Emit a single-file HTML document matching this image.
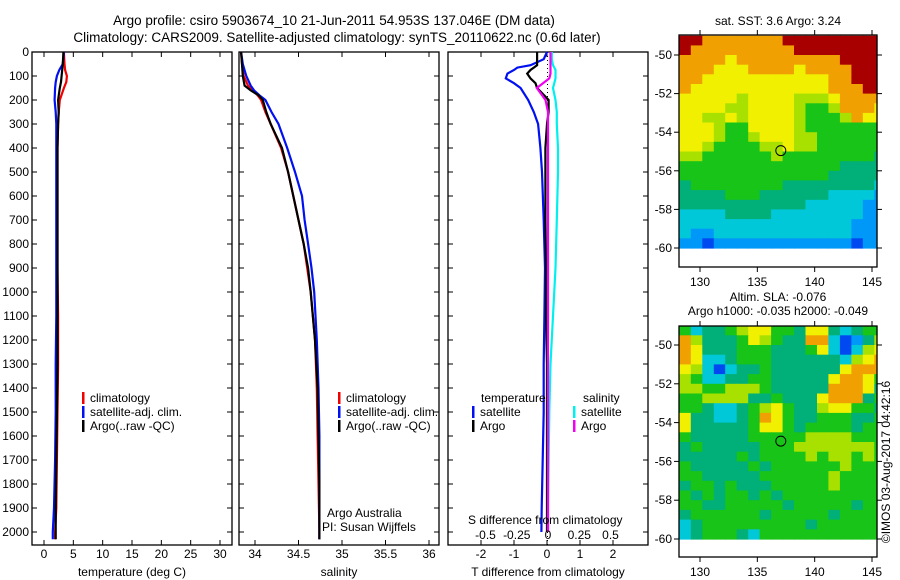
<!DOCTYPE html>
<html><head><meta charset="utf-8"><style>
body{margin:0;background:#fff}
svg{display:block;font-family:"Liberation Sans",sans-serif}
</style></head><body>
<svg id="s" width="900" height="580" viewBox="0 0 900 580" xmlns="http://www.w3.org/2000/svg">
<text x="334" y="25" font-size="13.5" text-anchor="middle">Argo profile: csiro 5903674_10 21-Jun-2011 54.953S 137.046E (DM data)</text>
<text x="337" y="42" font-size="13.5" text-anchor="middle">Climatology: CARS2009. Satellite-adjusted climatology: synTS_20110622.nc (0.6d later)</text>
<text x="778" y="25" font-size="12" text-anchor="middle">sat. SST: 3.6 Argo: 3.24</text>
<text x="778" y="301" font-size="12" text-anchor="middle">Altim. SLA: -0.076</text>
<text x="778" y="315" font-size="12" text-anchor="middle">Argo h1000: -0.035 h2000: -0.049</text>
<text x="0" y="0" font-size="12" text-anchor="middle" transform="translate(890,462) rotate(-90)">©IMOS 03-Aug-2017 04:42:16</text>
<g id="g"></g>
</svg>
<script>
// ---- data ----
const tDepth=[0,50,75,100,125,150,200,250,300,400,500,700,900,1100,1300,1500,1700,1900,2000,2030];
const tClim=[3.4,3.5,3.6,3.9,3.8,3.4,2.7,2.5,2.4,2.3,2.3,2.3,2.3,2.4,2.4,2.3,2.2,2.1,1.9,1.9];
const tSat=[3.4,3.2,2.6,2.2,2.0,1.9,1.8,2.0,2.1,2.1,2.1,2.1,2.1,2.1,2.0,2.0,1.9,1.7,1.5,1.5];
const tArgo=[3.3,3.2,3.1,3.0,2.9,2.7,2.4,2.5,2.4,2.3,2.3,2.3,2.3,2.3,2.3,2.2,2.1,2.0,2.0,2.0];
const sDepth=[0,50,100,140,160,180,200,250,300,400,500,600,700,800,900,1000,1200,1400,1600,1800,2000,2030];
const sArgo=[33.84,33.85,33.86,33.88,33.95,34.04,34.09,34.13,34.18,34.31,34.38,34.44,34.50,34.56,34.61,34.64,34.69,34.72,34.73,34.74,34.74,34.74];
const sClim=[33.84,33.85,33.87,33.92,33.97,34.03,34.07,34.12,34.18,34.30,34.38,34.44,34.50,34.56,34.60,34.64,34.69,34.71,34.72,34.73,34.74,34.74];
const sSat=[33.84,33.86,33.90,33.95,33.99,34.05,34.12,34.19,34.27,34.37,34.46,34.54,34.57,34.61,34.65,34.68,34.71,34.73,34.74,34.74,34.74,34.74];
const dDepth=[0,30,55,65,75,90,110,130,150,200,250,300,400,500,700,900,1100,1300,1500,1700,1900,2000];
const dTSat=[0,-0.1,-0.5,-0.9,-1.0,-1.2,-1.25,-1.0,-0.8,-0.57,-0.4,-0.27,-0.2,-0.15,-0.1,-0.06,-0.08,-0.1,-0.1,-0.13,-0.16,-0.17];
const dTArgo=[-0.3,-0.3,-0.3,-0.4,-0.5,-0.6,-0.5,-0.35,-0.3,0.05,0.05,0,-0.05,-0.05,-0.05,-0.03,-0.03,0,0,0,0,0];
const dSSat=[0.03,0.03,0.04,0.05,0.06,0.06,0.06,0.05,0.04,0.06,0.07,0.07,0.08,0.08,0.07,0.06,0.04,0.02,0.01,0.005,0,0];
const dSArgo=[0.02,0.02,0.02,0.02,0.02,0.02,0.01,-0.04,-0.09,-0.02,0,0,0,0,0,0,0,0,0,0,0,0];
const depthTicks=[0,100,200,300,400,500,600,700,800,900,1000,1100,1200,1300,1400,1500,1600,1700,1800,1900,2000];
const tTicks=[0,5,10,15,20,25,30];
const sTicks=[34,34.5,35,35.5,36];
const sTickLabels=["34","34.5","35","35.5","36"];
const dtTicks=[-2,-1,0,1,2];
const dsTicks=[-0.5,-0.25,0,0.25,0.5];
const dsTickLabels=["-0.5","-0.25","0","0.25","0.5"];
const lonTicks=[130,135,140,145];
const latTicks=[-50,-52,-54,-56,-58,-60];
const sstGrid=["998888888999999999","988888888899999999","888878888888889999","888777888878888999","887777777777788999","877777777777788899","777776777766678888","777766777765568887","776676777765556877","777655777765555555","777655677766555555","776555566766555555","665555556555555554","555555555555554444","555555555555544444","455555555444444443","444455544444433332","444444444443333322","333344443333333322","333333333333333222","322333333333333222","221222222222222122"];
const slaGrid=["534456775547743455","864445765448831246","874445554445731367","873345554444443678","763134454444447888","653344554444478875","665566654444488874","556666445444788845","554334567544677554","744334587544555445","744444577545555455","544444555556666555","454444455566666665","444445455556566565","544444545555556555","554444455555565555","455454445555565555","545455454555555555","554455555455555455","455555545555545555","345555555554555555","345554355555555555"];
const palette=["#0000a8","#0048f0","#0098f8","#00c8d8","#00b078","#18c418","#a8e000","#f0f000","#f0a000","#a80000"];
const argoLon=137.046, argoLat=-54.953;
// ---- helpers ----
const NS="http://www.w3.org/2000/svg";const G=document.getElementById('g');
function mk(t,a,p){const e=document.createElementNS(NS,t);for(const k in a)e.setAttribute(k,a[k]);(p||G).appendChild(e);return e;}
const Y=d=>52+d*0.24;
function panel(name,x0,x1,xs,ticks,labels,xlabel,showDepth){
  const b=mk('rect',{x:x0,y:52,width:x1-x0,height:493,fill:'none',stroke:'#000','stroke-width':1.3});
  
  
  ticks.forEach((v,i)=>{const x=xs(v);
    mk('line',{x1:x,x2:x,y1:52,y2:57,stroke:'#000'});mk('line',{x1:x,x2:x,y1:545,y2:540,stroke:'#000'});
    const t=mk('text',{x:x,y:558,'font-size':12,'text-anchor':'middle'});t.textContent=labels[i];
    
    });
  depthTicks.forEach(d=>{mk('line',{x1:x0,x2:x0+5,y1:Y(d),y2:Y(d),stroke:'#000'});mk('line',{x1:x1,x2:x1-5,y1:Y(d),y2:Y(d),stroke:'#000'});
    if(showDepth){const t=mk('text',{x:29,y:Y(d)+4,'font-size':12,'text-anchor':'end'});t.textContent=d;
    
    }});
  const tl=mk('text',{x:(x0+x1)/2,y:576,'font-size':12,'text-anchor':'middle'});tl.textContent=xlabel;
  
  
}
function line(name,xs,vals,depths,color){
  const pts=vals.map((v,i)=>xs(v).toFixed(1)+','+Y(depths[i]).toFixed(1)).join(' ');
  const p=mk('polyline',{points:pts,fill:'none',stroke:color,'stroke-width':2.2});
  
  
}
function txt(name,x,y,s,anchor){const t=mk('text',{x:x,y:y,'font-size':12,'text-anchor':anchor||'start'});t.textContent=s;
  
  return t;}
function legend(name,x,y,color,label){mk('rect',{x:x,y:y-10,width:2.5,height:12,fill:color});
  txt(name,x+8,y,label);}
// ---- temperature panel ----
const xT=v=>44+v*5.867;
panel('temperature-panel',32,232,xT,tTicks,tTicks.map(String),'temperature (deg C)',true);
line('temp-climatology-line',xT,tClim,tDepth,'#f00000');
line('temp-satellite-line',xT,tSat,tDepth,'#0010f0');
line('temp-argo-line',xT,tArgo,tDepth,'#000');
legend('temp-legend-climatology',82,402,'#f00000','climatology');
legend('temp-legend-satellite',82,416,'#0010f0','satellite-adj. clim.');
legend('temp-legend-argo',82,430,'#000','Argo(..raw -QC)');
// ---- salinity panel ----
const xS=v=>255+(v-34)*87;
panel('salinity-panel',239,439,xS,sTicks,sTickLabels,'salinity',false);
line('sal-climatology-line',xS,sClim,sDepth,'#f00000');
line('sal-satellite-line',xS,sSat,sDepth,'#0010f0');
line('sal-argo-line',xS,sArgo,sDepth,'#000');
legend('sal-legend-climatology',338,402,'#f00000','climatology');
legend('sal-legend-satellite',338,416,'#0010f0','satellite-adj. clim.');
legend('sal-legend-argo',338,430,'#000','Argo(..raw -QC)');
txt('credit-argo-australia',327,517,'Argo Australia');
txt('credit-pi',322,531,'PI: Susan Wijffels');
// ---- difference panel ----
const xD=v=>547+v*33;const xDS=v=>548+v*125;
panel('difference-panel',448,648,xD,dtTicks,dtTicks.map(String),'T difference from climatology',false);
mk('line',{x1:547.5,x2:547.5,y1:52,y2:545,stroke:'#000','stroke-dasharray':'1 3'});
line('tdiff-satellite-line',xD,dTSat,dDepth,'#0010f0');
line('sdiff-satellite-line',xDS,dSSat,dDepth,'#00f0f0');
line('tdiff-argo-line',xD,dTArgo,dDepth,'#000');
line('sdiff-argo-line',xDS,dSArgo,dDepth,'#f000f0');
txt('s-diff-axis-title',468,524,'S difference from climatology');
dsTicks.forEach((v,i)=>txt('s-diff-tick-label',xDS(v),539,dsTickLabels[i],'middle'));
txt('legend-temperature-header',481,402,'temperature');
txt('legend-salinity-header',583,402,'salinity');
legend('legend-tdiff-satellite',472,416,'#0010f0','satellite');
legend('legend-tdiff-argo',472,430,'#000','Argo');
legend('legend-sdiff-satellite',573,416,'#00f0f0','satellite');
legend('legend-sdiff-argo',573,430,'#f000f0','Argo');
// ---- maps ----
function map(name,grid,top,bottom,lat50,lat60){
  const x0=679,x1=877;const lx=v=>700+(v-130)*11.467;const ly=v=>lat50+(v+50)*(lat50-lat60)/10;
  const rows=grid.length,cols=grid[0].length;
  for(let r=0;r<rows;r++)for(let c=0;c<cols;c++){
    const lo=128.2+c,la=-49-r*0.5;
    const xa=Math.max(x0,lx(lo)),xb=Math.min(x1,lx(lo+1)),ya=Math.max(top,ly(la)),yb=ly(la-0.5);
    const cell=mk('rect',{x:xa.toFixed(1),y:ya.toFixed(1),width:(xb-xa+0.6).toFixed(1),height:(yb-ya+0.6).toFixed(1),fill:palette[+grid[r][c]]});
    
    
  }
  const f=mk('rect',{x:x0,y:top,width:x1-x0,height:bottom-top,fill:'none',stroke:'#000','stroke-width':1.3});
  
  
  lonTicks.forEach(v=>{mk('line',{x1:lx(v),x2:lx(v),y1:top,y2:top-5,stroke:'#000'});mk('line',{x1:lx(v),x2:lx(v),y1:bottom,y2:bottom+5,stroke:'#000'});
    txt(name+'-lon-label',lx(v),bottom+19,String(v),'middle');});
  latTicks.forEach(v=>{mk('line',{x1:x0,x2:x0-5,y1:ly(v),y2:ly(v),stroke:'#000'});mk('line',{x1:x1,x2:x1+5,y1:ly(v),y2:ly(v),stroke:'#000'});
    txt(name+'-lat-label',x0-7,ly(v)+4,String(v),'end');});
  const c=mk('circle',{cx:lx(argoLon),cy:ly(argoLat),r:5,fill:'none',stroke:'#000','stroke-width':1});
  
  
}
map('sst-map',sstGrid,35,267,55,248);
map('sla-map',slaGrid,326,557,345,539);
</script>
</body></html>
